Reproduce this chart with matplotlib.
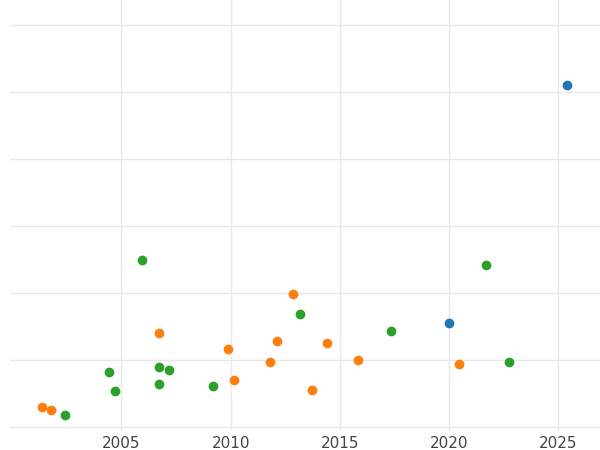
import matplotlib.pyplot as plt

green_x = [2005.96, 2004.45, 2004.72, 2006.70, 2007.16, 2006.70, 2002.43, 2009.17, 2013.17, 2017.34, 2021.70, 2022.75]
green_y = [2.49, 0.82, 0.54, 0.90, 0.85, 0.64, 0.18, 0.61, 1.69, 1.43, 2.42, 0.97]
orange_x = [2001.38, 2001.79, 2006.70, 2009.86, 2010.14, 2011.79, 2012.11, 2012.84, 2013.72, 2014.40, 2015.83, 2020.46]
orange_y = [0.30, 0.25, 1.40, 1.16, 0.70, 0.97, 1.28, 1.99, 0.55, 1.25, 1.00, 0.94]
blue_x = [2020.0, 2025.41]
blue_y = [1.55, 5.10]

fig = plt.figure(figsize=(6, 4.5), dpi=100)
ax = fig.add_axes([10/600, 20/450, 590/600, 430/450])

ax.scatter(green_x, green_y, color='#2ca02c', s=36, zorder=3)
ax.scatter(orange_x, orange_y, color='#ff7f0e', s=36, zorder=3)
ax.scatter(blue_x, blue_y, color='#1f77b4', s=36, zorder=3)

ax.set_xlim(1999.9, 2026.9)
ax.set_ylim(-0.045, 6.37)
ax.set_xticks([2005, 2010, 2015, 2020, 2025])
ax.set_yticks([0, 1, 2, 3, 4, 5, 6])
ax.set_yticklabels([])
ax.grid(True, color='#e8e8e8', linewidth=1)
ax.set_axisbelow(True)
for s in ax.spines.values():
    s.set_visible(False)
ax.tick_params(axis='both', length=0, labelsize=11, colors='#444444')
ax.tick_params(axis='x', pad=4)

fig.savefig('out.png', dpi=100)
